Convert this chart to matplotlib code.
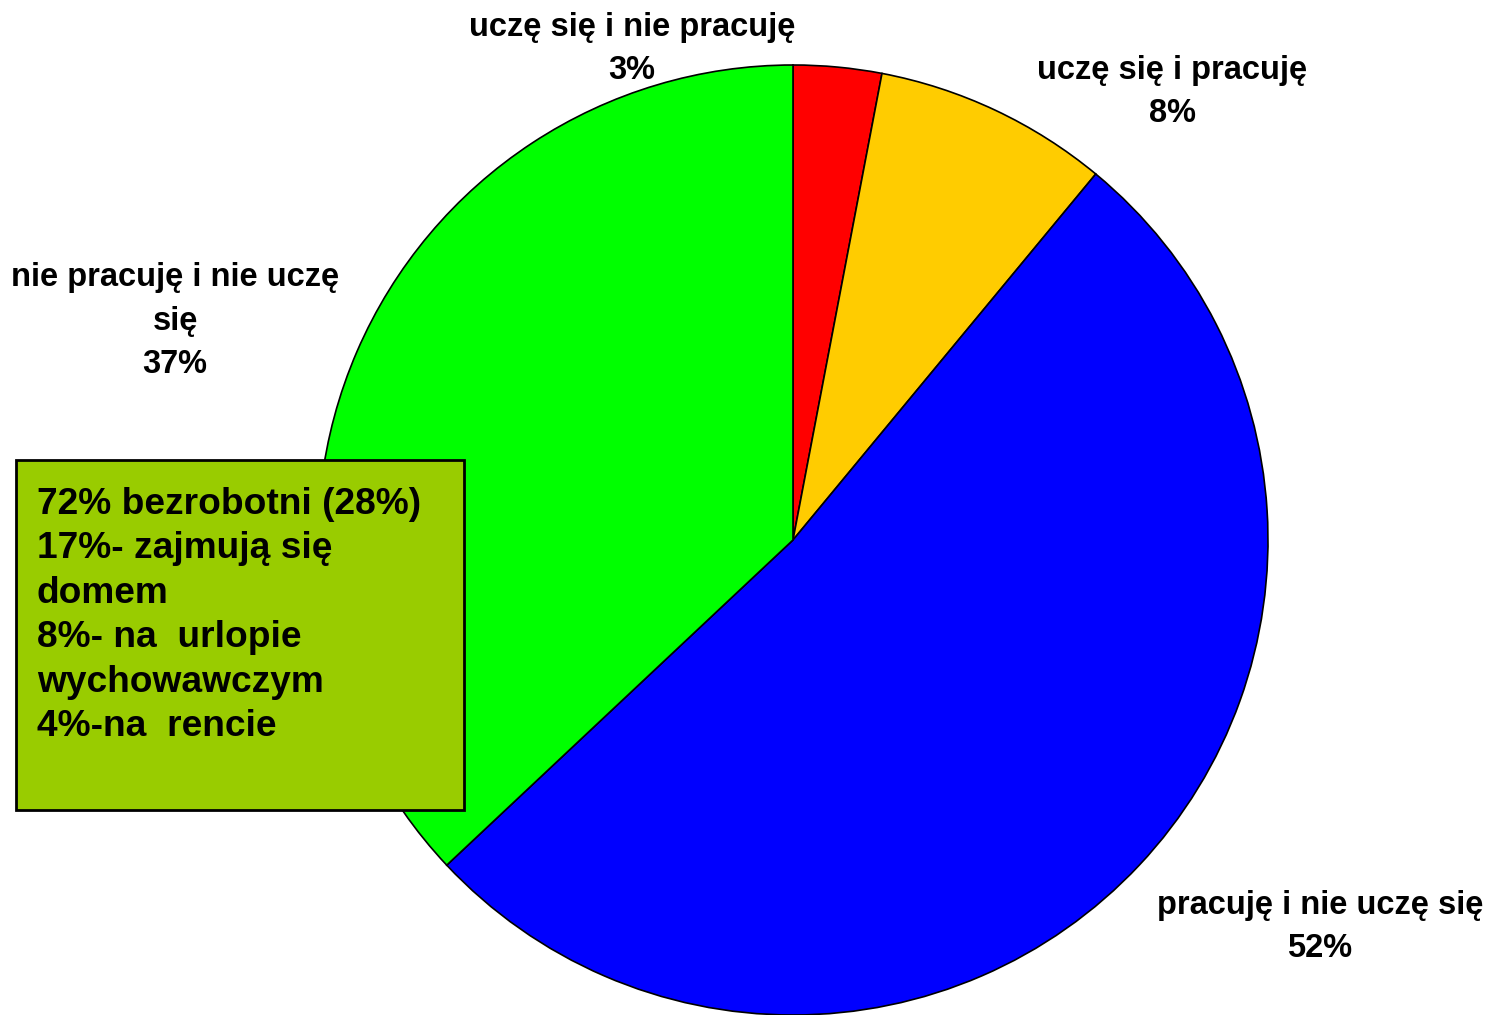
import matplotlib
matplotlib.use("Agg")
import matplotlib.pyplot as plt
from matplotlib.patches import Rectangle

# slices, clockwise from 12 o'clock
labels = ["uczę się i nie pracuję", "uczę się i pracuję",
          "pracuję i nie uczę się", "nie pracuję i nie uczę\nsię"]
values = [3, 8, 52, 37]
colors = ["#FF0000", "#FFCC00", "#0000FF", "#00FF00"]

# where each label sits (pixel coords, y from top)
label_pos = [(632, 49), (1172, 92), (1320, 927), (175, 321)]

box_lines = ["72% bezrobotni (28%)", "17%- zajmują się", "domem",
             "8%- na  urlopie", "wychowawczym", "4%-na  rencie"]

W, H = 1490, 1015
plt.rcParams["font.family"] = ["Liberation Sans", "DejaVu Sans"]

fig = plt.figure(figsize=(W / 100, H / 100), dpi=100)
ax = fig.add_axes([0, 0, 1, 1])

cx, cy, r = 793, H - 540, 475
ax.pie(values, colors=colors, startangle=90, counterclock=False,
       center=(cx, cy), radius=r, frame=True,
       wedgeprops=dict(edgecolor="black", linewidth=1.2))
ax.set_xlim(0, W)
ax.set_ylim(0, H)
ax.set_aspect("equal")
ax.axis("off")

for lab, v, (x, y) in zip(labels, values, label_pos):
    ax.text(x, H - y, f"{lab}\n{v}%", ha="center", va="center",
            fontsize=23.5, fontweight="bold", linespacing=1.52)

# annotation box over the green slice
ax.add_patch(Rectangle((16, H - 810), 448, 350, facecolor="#99CC00",
                       edgecolor="black", linewidth=2, zorder=5))
ax.text(37, H - 487, "\n".join(box_lines), ha="left", va="top",
        fontsize=26.7, fontweight="bold", linespacing=1.35, zorder=6)

fig.savefig("out.png", dpi=100)
